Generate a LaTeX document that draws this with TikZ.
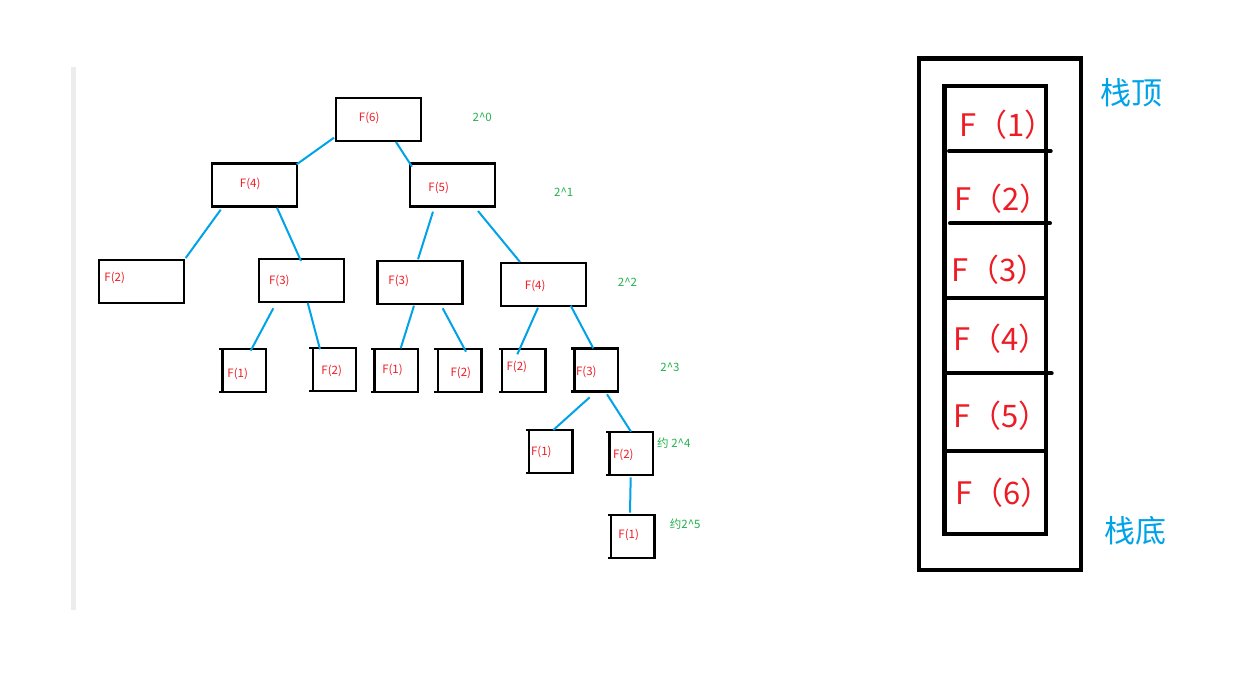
\documentclass[tikz,border=0pt]{standalone}
\usepackage{fontspec}
\setmainfont{Noto Sans CJK SC}
\usetikzlibrary{calc}
\definecolor{fred}{HTML}{ED1C24}
\definecolor{fgreen}{HTML}{22B14C}
\definecolor{lblue}{HTML}{00A2E8}
\definecolor{barg}{HTML}{ECECEC}
\tikzset{
  bigbox/.style={draw=black, line width=2.2, minimum width=85, minimum height=43, inner sep=0, outer sep=0},
  smallbox/.style={draw=black, line width=2.2, minimum width=43.5, minimum height=43, inner sep=0, outer sep=0},
  edge/.style={draw=lblue, line width=2},
  lbl/.style={text=fred, font=\fontsize{11.5}{13}\selectfont, inner sep=0},
  pw/.style={text=fgreen, font=\fontsize{11.5}{13}\selectfont, inner sep=0},
  stackbox/.style={draw=black, line width=4.2, inner sep=0, outer sep=0},
  div/.style={draw=black, line width=4, line cap=round},
  slbl/.style={text=fred, font=\fontsize{31}{36}\selectfont, inner sep=0},
  blbl/.style={text=lblue, font=\fontsize{31}{36}\selectfont, inner sep=0}
}
\begin{document}
\begin{tikzpicture}[x=1pt,y=-1pt]
\useasboundingbox (0,0) rectangle (1251,682);
\fill[barg] (71,67) rectangle (76,610);
% big boxes
\node[bigbox] (f6) at (378.5,119.5) {};
\node[bigbox] (f4a) at (254.5,185) {};
\node[bigbox] (f5) at (452.7,185) {};
\node[bigbox] (f2a) at (141.3,281.7) {};
\node[bigbox] (f3a) at (301.3,280.7) {};
\node[bigbox] (f3b) at (420,282.7) {};
\node[bigbox] (f4b) at (543.5,284.3) {};
% small boxes
\node[smallbox] (s1) at (244.2,370.8) {};
\node[smallbox] (s2) at (334.4,369.7) {};
\node[smallbox] (s3) at (396.3,370.7) {};
\node[smallbox] (s4) at (459.7,370.7) {};
\node[smallbox] (s5) at (523.8,370.3) {};
\node[smallbox] (s6) at (596.3,370) {};
\node[smallbox] (s7) at (550.8,451.5) {};
\node[smallbox] (s8) at (631.3,453.3) {};
\node[smallbox] (s9) at (632.8,536.2) {};
\foreach \n in {s1,s2,s3,s4,s5,s6,s7,s8,s9}
  \draw[black, line width=2.2] (\n.north west) -- ++(-3.5,0) (\n.south west) -- ++(-3.5,0);
% labels
\node[lbl] (t6) at (369.2,117.5) {F(6)};
\node[lbl] (t4a) at (250.2,183.5) {F(4)};
\node[lbl] (t5) at (438.7,188) {F(5)};
\node[lbl] (t2a) at (114.7,277.5) {F(2)};
\node[lbl] (t3a) at (279.3,281.3) {F(3)};
\node[lbl] (t3b) at (398.7,280.7) {F(3)};
\node[lbl] (t4b) at (535.2,286) {F(4)};
\node[lbl] (u1) at (237.7,374.3) {F(1)};
\node[lbl] (u2) at (331.7,370.7) {F(2)};
\node[lbl] (u3) at (392.5,370.2) {F(1)};
\node[lbl] (u4) at (460.8,372.8) {F(2)};
\node[lbl] (u5) at (516.8,367.2) {F(2)};
\node[lbl] (u6) at (586.3,372.2) {F(3)};
\node[lbl] (u7) at (541.3,452.2) {F(1)};
\node[lbl] (u8) at (623.3,455.2) {F(2)};
\node[lbl] (u9) at (628.7,534.8) {F(1)};
% green level labels
\node[pw] (p0) at (482.2,117.2) {2\^{}0};
\node[pw] (p1) at (563.7,192.3) {2\^{}1};
\node[pw] (p2) at (627.5,281.7) {2\^{}2};
\node[pw] (p3) at (670,367.3) {2\^{}3};
\node[pw] (p4) at (673.8,442.7) {约 2\^{}4};
\node[pw] (p5) at (685.3,524.3) {约2\^{}5};
% edges
\draw[edge] ([shift={(-44.5,18.2)}]f6.center) -- ([shift={(42.2,-20.7)}]f4a.center);
\draw[edge] ([shift={(17.5,22.5)}]f6.center) -- ([shift={(-40.7,-18.3)}]f5.center);
\draw[edge] ([shift={(-33.8,24.7)}]f4a.center) -- ([shift={(44.4,-23.7)}]f2a.center);
\draw[edge] ([shift={(22.5,22.7)}]f4a.center) -- ([shift={(-0.3,-19.7)}]f3a.center);
\draw[edge] ([shift={(-19.7,26.7)}]f5.center) -- ([shift={(-2,-23.4)}]f3b.center);
\draw[edge] ([shift={(25.3,26)}]f5.center) -- ([shift={(-23.5,-22.3)}]f4b.center);
\draw[edge] ([shift={(-28,27.6)}]f3a.center) -- ([shift={(6.5,-20.1)}]s1.center);
\draw[edge] ([shift={(6.4,22)}]f3a.center) -- ([shift={(-14.4,-20.4)}]s2.center);
\draw[edge] ([shift={(-6,23)}]f3b.center) -- ([shift={(4.4,-22.4)}]s3.center);
\draw[edge] ([shift={(22.7,25.6)}]f3b.center) -- ([shift={(6.3,-19)}]s4.center);
\draw[edge] ([shift={(-5.5,23.4)}]f4b.center) -- ([shift={(-6.5,-16)}]s5.center);
\draw[edge] ([shift={(27.2,21.4)}]f4b.center) -- ([shift={(-3,-21.7)}]s6.center);
\draw[edge] ([shift={(-6.6,27.3)}]s6.center) -- ([shift={(2.5,-21.5)}]s7.center);
\draw[edge] ([shift={(10.7,24.3)}]s6.center) -- ([shift={(-0.3,-21.6)}]s8.center);
\draw[edge] ([shift={(-0.6,24)}]s8.center) -- ([shift={(-2.8,-23.5)}]s9.center);
% stack
\node[stackbox, minimum width=162, minimum height=511.5] (outer) at (1000,314.25) {};
\node[stackbox, minimum width=101.5, minimum height=448] (inner) at (995.25,310) {};
\draw[div] ([shift={(4.5,65)}]inner.north west) -- ([shift={(4.7,65)}]inner.north east);
\draw[div] ([shift={(5.5,137.3)}]inner.north west) -- ([shift={(4,137.3)}]inner.north east);
\draw[black, line width=4] ([shift={(0,212.3)}]inner.north west) -- ([shift={(0,212.3)}]inner.north east);
\draw[div] ([shift={(2.2,287.3)}]inner.north west) -- ([shift={(5.7,287.3)}]inner.north east);
\draw[black, line width=4] ([shift={(0,365)}]inner.north west) -- ([shift={(0,365)}]inner.north east);
\node[slbl] (k1) at (1007.8,125) {F（1）};
\node[slbl] (k2) at (1002.8,199) {F（2）};
\node[slbl] (k3) at (999.5,269.5) {F（3）};
\node[slbl] (k4) at (1001.8,338.3) {F（4）};
\node[slbl] (k5) at (1001.8,415.8) {F（5）};
\node[slbl] (k6) at (1003.5,492.5) {F（6）};
\node[blbl] (top) at (1131.5,93) {栈顶};
\node[blbl] (bot) at (1135,531) {栈底};
\end{tikzpicture}
\end{document}
